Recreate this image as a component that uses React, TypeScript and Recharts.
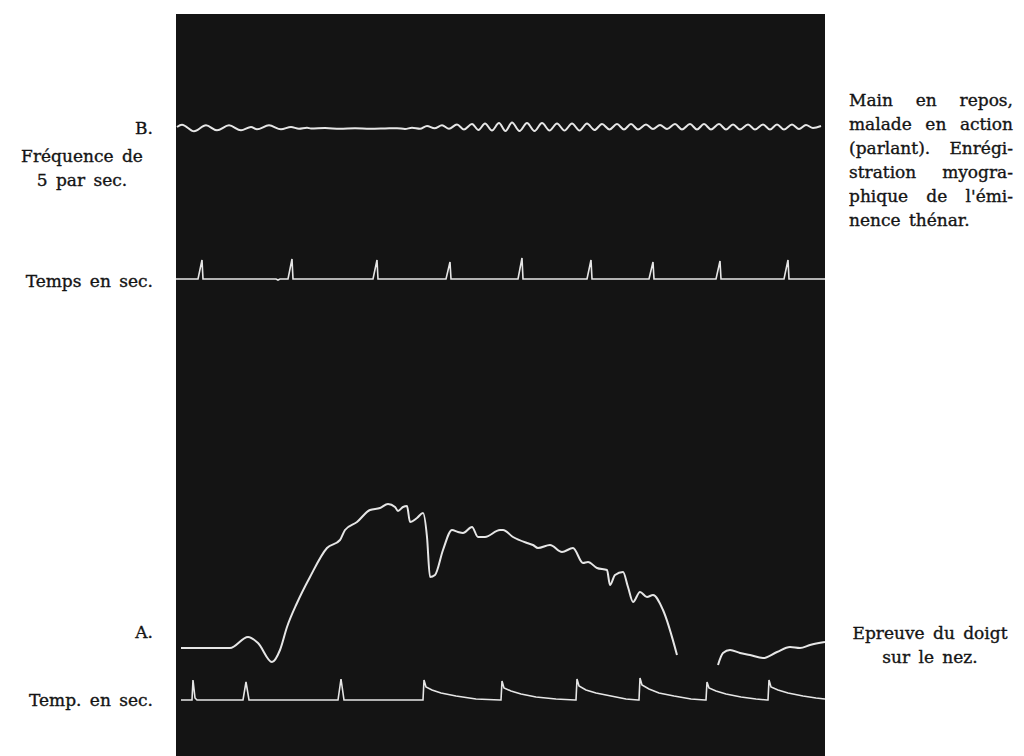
import React from "react";
import { LineChart, Line, XAxis, YAxis } from "recharts";

type P = { x: number; y: number };
const pts = (a: number[][]): P[] => a.map(([x, y]) => ({ x, y }));

// Trace B: tremor at rest (frequency ~5 per sec)
const traceB = pts([
  [1, 629], [6, 631.3], [18, 624.7], [30, 630.7], [41, 625.7], [53, 630.7], [65, 625.7], [75, 629], [81, 626.7],
  [93, 630.7], [105, 626.7], [115, 629], [123, 627.3], [131, 628.3], [135, 627.5], [149, 628], [164, 627.2],
  [179, 627.7], [194, 627.2], [209, 627.5], [221, 627.8], [229, 627.1], [236, 628.2], [244, 627.2],
  [251, 630], [258.5, 627.7], [266, 630.7], [273, 627.2], [281, 631.5], [288, 626.5], [296, 632], [302.5, 626],
  [309, 632.5], [316, 625.5], [323, 633], [329.5, 625], [336, 633.5], [343.5, 625], [351, 633], [358.5, 625],
  [366, 633], [373.5, 625.5], [381, 632.5], [388.5, 625.5], [396, 632.5], [403.5, 625.5], [411, 632.5], [418.5, 626],
  [426, 632], [433.5, 626.5], [441, 632], [448, 626.5], [455, 632], [462, 626.5], [470, 631.5], [477, 627],
  [484, 631], [491, 627], [499, 632], [506, 626.5], [514, 632], [521, 626.5], [528, 632], [535, 626.5],
  [543, 632], [550, 626.5], [557, 631.5], [564, 626.5], [572, 631.5], [579, 626.5], [587, 631.5], [594, 626.5],
  [601, 631.5], [608, 626.5], [616, 631.5], [623, 627], [630, 631], [637, 628], [645, 630],
]);

// Upper time marks (seconds)
const timeUpper = pts([
  [0, 477], [22, 477], [26, 496], [27, 477], [100, 477], [102, 476], [104, 477], [112, 477], [116, 497], [117, 477],
  [197, 477], [201, 496], [202, 477], [270, 477], [274, 494], [275, 477], [342, 477], [346, 498], [347, 477],
  [411, 477], [415, 496], [416, 477], [473, 477], [477, 494], [478, 477], [540, 477], [544, 495], [545, 477],
  [608, 477], [612, 496], [613, 477], [649, 477],
]);

// Trace A: finger-to-nose test
const traceA1 = pts([
  [5, 108], [54, 108], [72, 119], [82, 113], [96, 94], [104, 106], [111, 129], [121, 153], [134, 179], [151, 208],
  [164, 216], [169, 226], [181, 234], [194, 246], [204, 248], [212, 252], [219, 249], [222, 245], [227, 249],
  [231, 250], [234, 234], [241, 238], [247, 243], [251, 219], [254, 179], [259, 181], [267, 206], [276, 226],
  [282, 224], [287, 223], [296, 229], [302, 219], [309, 219], [324, 226], [327, 226], [337, 219], [351, 213],
  [357, 211], [362, 208], [374, 211], [386, 204], [397, 208], [407, 193], [412, 194], [421, 188], [431, 186],
  [434, 171], [439, 181], [447, 184], [452, 169], [457, 154], [464, 164], [471, 159], [477, 161], [487, 146],
  [501, 101],
]);
const traceA2 = pts([
  [542, 91], [547, 103], [554, 106], [564, 103], [574, 101], [587, 98], [601, 104], [614, 109], [624, 108],
  [634, 111], [649, 114],
]);

// Lower time marks (seconds)
const timeLower = pts([
  [5, 56], [16, 56], [17, 76], [19, 58], [21, 56], [67, 56], [70, 74], [73, 56], [162, 56], [165, 77], [168, 56],
  [247, 56], [248, 76], [250, 69], [256, 66], [265, 63], [280, 60], [300, 57], [324, 56],
  [325, 56], [326, 75], [328, 68], [335, 65], [345, 62], [360, 59], [380, 57], [399, 56],
  [400, 56], [401, 77], [403, 70], [410, 66], [420, 63], [435, 60], [450, 57], [462, 56],
  [463, 56], [464, 78], [466, 71], [473, 67], [483, 63], [498, 60], [515, 57], [529, 56],
  [530, 56], [531, 74], [533, 68], [540, 65], [550, 62], [565, 59], [580, 57], [591, 56],
  [592, 56], [593, 76], [595, 69], [602, 66], [612, 63], [627, 60], [640, 58], [649, 57],
]);

const leftLabels = [
  { text: "B.", cy: 128, align: "right" },
  { text: "Fréquence de", cy: 156, align: "center" },
  { text: "5 par sec.", cy: 180, align: "center" },
  { text: "Temps en sec.", cy: 281, align: "right" },
  { text: "A.", cy: 632, align: "right" },
  { text: "Temp. en sec.", cy: 700, align: "right" },
];

const rightBlock = [
  "Main en repos,",
  "malade en action",
  "(parlant). Enrégi-",
  "stration myogra-",
  "phique de l'émi-",
  "nence thénar.",
];
const rightBlock2 = ["Epreuve du doigt", "sur le nez."];

const font = '"DejaVu Serif", serif';
const ink = "#141414";
const trace = "#e6e6e6";
const fs = 17;
const textStyle: any = { fontSize: fs, WebkitTextStroke: "0.35px " + ink, whiteSpace: "nowrap", height: 24, lineHeight: "24px", position: "absolute" };

export default function App() {
  return (
    <div style={{ position: "absolute", left: 0, top: 0, width: 1024, height: 756, background: "#fff", overflow: "hidden", fontFamily: font, color: ink }}>
      {leftLabels.map((l, i) => (
        <div key={i} style={{ ...textStyle, left: l.align === "center" ? 8 : 0, width: l.align === "center" ? 148 : 153, top: l.cy - 12, textAlign: l.align as any, wordSpacing: 3 }}>
          {l.text}
        </div>
      ))}
      {rightBlock.map((t, i) => {
        const last = i === rightBlock.length - 1;
        return (
          <div key={i} style={{ ...textStyle, left: 849, width: 164, top: 88 + i * 24, textAlign: last ? "left" : "justify", textAlignLast: last ? "left" : "justify", wordSpacing: last ? 3 : 0 }}>
            {t}
          </div>
        );
      })}
      {rightBlock2.map((t, i) => (
        <div key={i} style={{ ...textStyle, left: 836, width: 188, top: 621 + i * 24, textAlign: "center", wordSpacing: 3 }}>
          {t}
        </div>
      ))}
      <div style={{ position: "absolute", left: 176, top: 14, width: 649, height: 742, background: "#141414" }}>
        <LineChart width={649} height={742} margin={{ top: 0, right: 0, bottom: 0, left: 0 }}>
          <XAxis type="number" dataKey="x" domain={[0, 649]} hide allowDataOverflow />
          <YAxis type="number" domain={[0, 742]} hide allowDataOverflow />
          <Line data={traceB} dataKey="y" type="monotone" stroke={trace} strokeWidth={2} dot={false} isAnimationActive={false} />
          <Line data={timeUpper} dataKey="y" type="linear" stroke={trace} strokeWidth={1.6} dot={false} isAnimationActive={false} />
          <Line data={traceA1} dataKey="y" type="monotone" stroke={trace} strokeWidth={2} dot={false} isAnimationActive={false} />
          <Line data={traceA2} dataKey="y" type="monotone" stroke={trace} strokeWidth={2} dot={false} isAnimationActive={false} />
          <Line data={timeLower} dataKey="y" type="linear" stroke={trace} strokeWidth={1.6} dot={false} isAnimationActive={false} />
        </LineChart>
      </div>
    </div>
  );
}
